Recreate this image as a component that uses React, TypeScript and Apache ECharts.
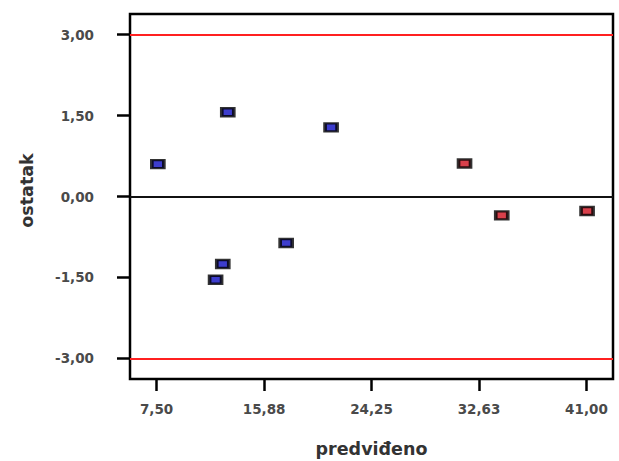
import React, { useEffect, useRef } from "react";
import * as echarts from "echarts";

const blueX = [7.6, 13.05, 12.66, 12.1, 17.6, 21.1];
const blueY = [0.6, 1.56, -1.25, -1.54, -0.86, 1.28];
const redX = [31.5, 34.4, 41.05];
const redY = [0.61, -0.35, -0.27];
const xTicks = [7.5, 15.88, 24.25, 32.63, 41.0];
const yTicks = [-3, -1.5, 0, 1.5, 3];
const refLines = [3, -3];

const fmt = (v: number) => v.toFixed(2).replace(".", ",");

export default function App() {
  const ref = useRef<HTMLDivElement>(null);
  useEffect(() => {
    const chart = echarts.init(ref.current!, undefined, { renderer: "svg" });
    const labelFont = {
      fontFamily: "DejaVu Sans",
      fontSize: 13.5,
      fontWeight: "bold" as const,
      color: "#4a4a4a",
    };
    const nameFont = {
      fontFamily: "DejaVu Sans",
      fontSize: 17.5,
      fontWeight: "bold" as const,
      color: "#333",
    };
    const markerStyle = (fill: string) => ({
      color: fill,
      borderColor: "#000",
      borderWidth: 3,
    });
    chart.setOption({
      animation: false,
      backgroundColor: "#fff",
      grid: {
        left: 130,
        right: 6,
        top: 14,
        bottom: 82,
        outerBoundsMode: "none",
        containLabel: false,
        show: true,
        borderColor: "#000",
        borderWidth: 2.5,
      },
      xAxis: {
        type: "value",
        min: 5.43,
        max: 43.07,
        splitLine: { show: false },
        axisLine: { show: false, onZero: false },
        axisTick: {
          show: true,
          length: 12,
          customValues: xTicks,
          lineStyle: { color: "#000", width: 2.5 },
        },
        axisLabel: {
          ...labelFont,
          margin: 23,
          customValues: xTicks,
          formatter: (v: number) => fmt(v),
        },
        name: "predviđeno",
        nameLocation: "middle",
        nameGap: 61,
        nameTextStyle: nameFont,
      },
      yAxis: {
        type: "value",
        min: -3.38,
        max: 3.38,
        splitLine: { show: false },
        axisLine: { show: false, onZero: false },
        axisTick: {
          show: true,
          length: 13,
          customValues: yTicks,
          lineStyle: { color: "#000", width: 2.5 },
        },
        axisLabel: {
          ...labelFont,
          margin: 36,
          customValues: yTicks,
          formatter: (v: number) => fmt(v),
        },
        name: "ostatak",
        nameLocation: "middle",
        nameGap: 94,
        nameTextStyle: { ...nameFont, padding: [0, 0, 0, 12] },
      },
      series: [
        {
          type: "scatter",
          data: blueX.map((x, i) => [x, blueY[i]]),
          symbol: "rect",
          symbolSize: [12, 8],
          itemStyle: markerStyle("#0c0cc0"),
          z: 5,
          markLine: {
            silent: true,
            symbol: "none",
            label: { show: false },
            data: [
              ...refLines.map((v) => ({
                yAxis: v,
                lineStyle: { color: "#ff2020", width: 2, type: "solid" },
              })),
              { yAxis: 0, lineStyle: { color: "#111", width: 2, type: "solid" } },
            ],
          },
        },
        {
          type: "scatter",
          data: redX.map((x, i) => [x, redY[i]]),
          symbol: "rect",
          symbolSize: [12, 8],
          itemStyle: markerStyle("#d0101e"),
          z: 5,
        },
      ],
    });
    return () => chart.dispose();
  }, []);
  return (
    <div
      ref={ref}
      style={{ position: "fixed", left: 0, top: 0, width: 619, height: 461 }}
    />
  );
}
